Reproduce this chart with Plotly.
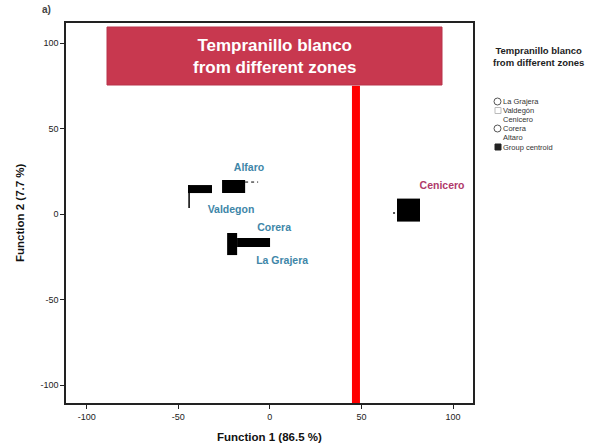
import plotly.graph_objects as go

# ---------------- data ----------------
groups = ["Alfaro", "Valdegon", "Corera", "La Grajera", "Cenicero"]
label_x = [-11.4, -21.2, 2.3, 6.7, 94.0]
label_y = [26.9, 2.3, -8.2, -27.5, 16.4]

# centroid blocks (start/end of each drawn block, function-score units)
alfaro_x = [-26.1, -13.5]
alfaro_y = [16.1, 16.1]
alfaro_tail_x = [-13.5, -6.4]
alfaro_tail_y = [18.7, 18.7]
valdegon_x = [-44.7, -31.6]
valdegon_y = [14.6, 14.6]
valdegon_pole_x = [-44.1, -44.1]
valdegon_pole_y = [16.9, 3.5]
corera_x = [-20.6, -20.6]
corera_y = [-11.1, -24.0]
grajera_x = [-17.9, 0.1]
grajera_y = [-16.7, -16.7]
cenicero_x = [75.7]
cenicero_y = [2.3]
cenicero_dot_x = [67.8]
cenicero_dot_y = [0.6]

cut_x = 47.0          # red separation line
cut_top = 75.0

x_ticks = [-100, -50, 0, 50, 100]
y_ticks = [-100, -50, 0, 50, 100]
tick_labels = ["-100", "-50", "0", "50", "100"]

legend_title = "Tempranillo blanco<br>from different zones"
legend_items = ["La Grajera", "Valdegón", "Cenicero", "Corera", "Altaro", "Group centroid"]

# ---------------- layout geometry ----------------
W, H = 603, 445
L, R, T, B = 66, 473, 23, 403
XR = [-111.3, 110.9]
YR = [-110.5, 111.7]
FONT = "Liberation Sans, Arial"

def px(p):
    return (p - L) / (R - L)

def py(p):
    return (B - p) / (B - T)

fig = go.Figure()
blue = "#3e86a8"
red_lbl = "#b03a6a"

def seg(xs, ys, w, dash=None):
    fig.add_trace(go.Scatter(x=xs, y=ys, mode="lines",
                             line=dict(color="black", width=w, dash=dash),
                             hoverinfo="skip", showlegend=False))

seg(alfaro_x, alfaro_y, 13)
seg(alfaro_tail_x, alfaro_tail_y, 1, "dot")
seg(valdegon_x, valdegon_y, 8)
seg(valdegon_pole_x, valdegon_pole_y, 1.5)
seg(corera_x, corera_y, 10)
seg(grajera_x, grajera_y, 9)
fig.add_trace(go.Scatter(x=cenicero_x, y=cenicero_y, mode="markers",
                         marker=dict(symbol="square", size=23, color="black"),
                         hoverinfo="skip", showlegend=False))
fig.add_trace(go.Scatter(x=cenicero_dot_x, y=cenicero_dot_y, mode="markers",
                         marker=dict(symbol="square", size=2, color="#555"),
                         hoverinfo="skip", showlegend=False))

# group labels
colors = [blue, blue, blue, blue, red_lbl]
fig.add_trace(go.Scatter(x=label_x, y=label_y, mode="text",
                         text=["<b>%s</b>" % g for g in groups],
                         textfont=dict(family=FONT, size=10.5, color=colors),
                         hoverinfo="skip", showlegend=False))

# red separation line
fig.add_shape(type="line", x0=cut_x, x1=cut_x, y0=YR[0], y1=cut_top,
              xref="x", yref="y", line=dict(color="#ff0000", width=8), layer="above")

# title box
fig.add_shape(type="rect", xref="paper", yref="paper",
              x0=px(107), x1=px(442), y0=py(85), y1=py(27),
              fillcolor="#c8384f", line=dict(color="#b8324a", width=1), layer="above")
fig.add_annotation(xref="paper", yref="paper", x=px(274), y=py(57),
                   xanchor="center", yanchor="middle",
                   text="<b>Tempranillo blanco<br>from different zones</b>",
                   showarrow=False, align="center",
                   font=dict(family=FONT, size=17, color="white"))

# axis titles
fig.add_annotation(xref="paper", yref="paper", x=px(269), y=py(437),
                   xanchor="center", yanchor="middle",
                   text="<b>Function 1 (86.5 %)</b>", showarrow=False,
                   font=dict(family=FONT, size=11.5, color="#111"))
fig.add_annotation(xref="paper", yref="paper", x=px(20), y=py(213),
                   xanchor="center", yanchor="middle",
                   text="<b>Function 2 (7.7 %)</b>", showarrow=False, textangle=-90,
                   font=dict(family=FONT, size=11.5, color="#111"))
fig.add_annotation(xref="paper", yref="paper", x=px(46), y=py(9),
                   xanchor="center", yanchor="middle",
                   text="<b>a)</b>", showarrow=False,
                   font=dict(family=FONT, size=10, color="#444"))

# legend block
fig.add_annotation(xref="paper", yref="paper", x=px(491), y=py(56),
                   xanchor="left", yanchor="middle",
                   text="<b>" + legend_title + "</b>", showarrow=False, align="center",
                   font=dict(family=FONT, size=9.5, color="#222"))
item_y = [101.5, 110.5, 119.5, 128.5, 137.5, 147]
symbols = ["circle", "square_light", None, "circle", None, "square_fill"]
for name, yy, sym in zip(legend_items, item_y, symbols):
    fig.add_annotation(xref="paper", yref="paper", x=px(502), y=py(yy),
                       xanchor="left", yanchor="middle", text=name, showarrow=False,
                       borderpad=0,
                       font=dict(family=FONT, size=7.5, color="#333"))
    if sym == "circle":
        fig.add_shape(type="circle", xref="paper", yref="paper",
                      x0=px(494), x1=px(501), y0=py(yy + 3.5), y1=py(yy - 3.5),
                      line=dict(color="#555", width=1))
    elif sym == "square_light":
        fig.add_shape(type="rect", xref="paper", yref="paper",
                      x0=px(495), x1=px(501), y0=py(yy + 3), y1=py(yy - 3),
                      line=dict(color="#bbb", width=1))
    elif sym == "square_fill":
        fig.add_shape(type="rect", xref="paper", yref="paper",
                      x0=px(495), x1=px(501), y0=py(yy + 3), y1=py(yy - 3),
                      fillcolor="#222", line=dict(color="#222", width=1))

axis_common = dict(showgrid=False, zeroline=False, showline=True, linecolor="#222",
                   linewidth=1.5, mirror=True, ticks="outside", ticklen=4, tickwidth=1,
                   tickcolor="#222",
                   tickfont=dict(family=FONT, size=9, color="#222"))
fig.update_xaxes(range=XR, tickvals=x_ticks, ticktext=tick_labels, **axis_common)
fig.update_yaxes(range=YR, tickvals=y_ticks, ticktext=tick_labels, **axis_common)

fig.update_layout(width=W, height=H, margin=dict(l=L, r=W - R, t=T, b=H - B),
                  paper_bgcolor="white", plot_bgcolor="white", showlegend=False)

fig.write_html("out.html")
